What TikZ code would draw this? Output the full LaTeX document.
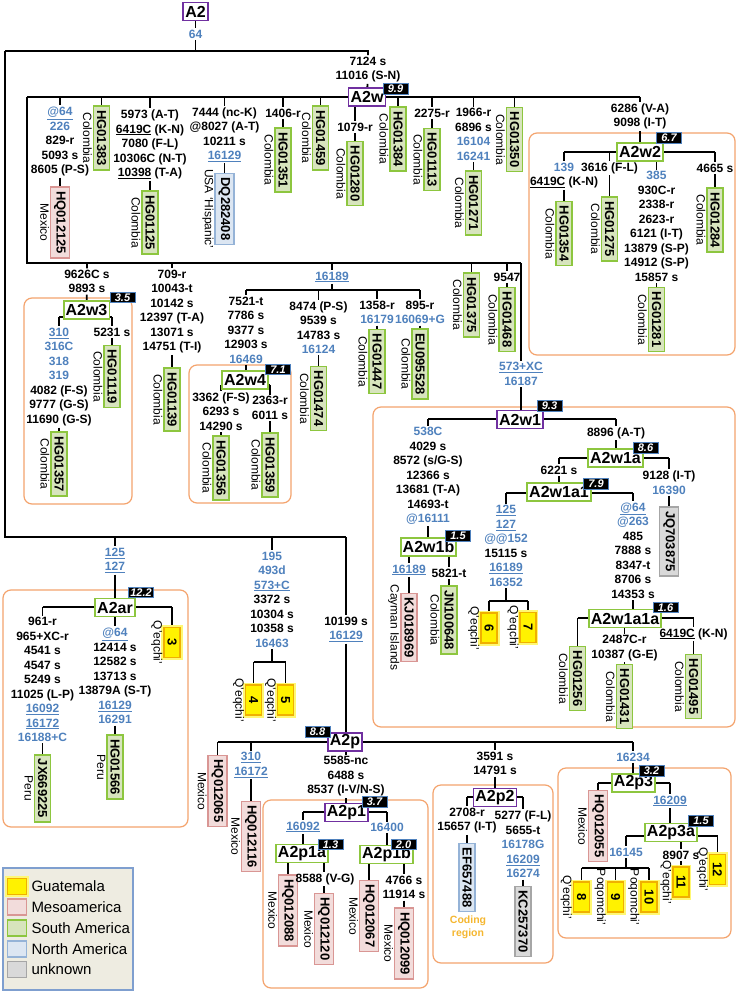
\documentclass[tikz,border=0pt]{standalone}
\usepackage{fontspec}
\setmainfont{Liberation Sans}
\usepackage{graphicx}
\usetikzlibrary{positioning,calc}
\pgfdeclarelayer{bg}
\pgfsetlayers{bg,main}
\definecolor{cpurple}{HTML}{7030A0}
\definecolor{cgreen}{HTML}{8DC63F}
\definecolor{fgreen}{HTML}{D7E4BD}
\definecolor{cpink}{HTML}{D99694}
\definecolor{fpink}{HTML}{F2DCDB}
\definecolor{cblue}{HTML}{95B3D7}
\definecolor{fblue}{HTML}{DCE6F2}
\definecolor{cgrey}{HTML}{A6A6A6}
\definecolor{fgrey}{HTML}{D9D9D9}
\definecolor{cgold}{HTML}{F0B000}
\definecolor{ccode}{HTML}{F5B731}
\definecolor{mblue}{HTML}{4F81BD}
\definecolor{corange}{HTML}{F4A46E}
\definecolor{fleg}{HTML}{EEECE1}
\definecolor{cleg}{HTML}{7F9FCF}
\newcommand{\vt}[1]{\rotatebox{-90}{#1}}
\newcommand{\blu}[1]{\textcolor{mblue}{#1}}
\newcommand{\blul}[1]{\textcolor{mblue}{\underline{#1}}}
\newcommand{\und}[1]{\underline{#1}}

\begin{document}
\begin{tikzpicture}[x=1pt,y=-1pt,
  tree/.style={line width=1.8pt},
  grp/.style={draw=corange,line width=1.2pt,rounded corners=8pt},
  mut/.style={align=center,inner sep=1.5pt,font=\bfseries\fontsize{12}{14.5}\selectfont},
  clade/.style={draw,fill=white,line width=1.8pt,inner xsep=2pt,inner ysep=0pt,minimum height=18pt,font=\bfseries\fontsize{16}{16}\selectfont},
  pclade/.style={clade,draw=cpurple},
  gclade/.style={clade,draw=cgreen},
  badge/.style={fill=black,draw=mblue,line width=0.8pt,text=white,inner sep=0pt,minimum width=25pt,minimum height=10.5pt,font=\bfseries\itshape\fontsize{11}{11}\selectfont},
  leaf/.style={draw,line width=1.6pt,inner xsep=3.5pt,inner ysep=4pt,font=\bfseries\fontsize{13}{13}\selectfont},
  sam/.style={leaf,draw=cgreen,fill=fgreen},
  meso/.style={leaf,draw=cpink,fill=fpink},
  nam/.style={leaf,draw=cblue,fill=fblue},
  unk/.style={leaf,draw=cgrey,fill=fgrey},
  gua/.style={leaf,draw=cgold,fill=yellow,minimum height=30pt,preaction={draw=yellow!55,line width=5pt}},
  ctrytext/.style={draw=none,fill=none,text=black,inner sep=0.5pt,minimum size=0pt,font=\fontsize{12}{12}\selectfont},
  cty/.style={label={[ctrytext]left:\vt{#1}}},
  coding/.style={align=center,text=ccode,inner sep=0pt,font=\bfseries\fontsize{10.5}{13}\selectfont},
  sw/.style={minimum width=19pt,minimum height=16pt,inner sep=0pt},
  legtext/.style={inner sep=0pt,anchor=west,font=\fontsize{15}{15}\selectfont}]
  \useasboundingbox (0,0) rectangle (738,992);

  % root and A2w
  \node[pclade] (a2) at (195.5,11.5) {A2};
  \node[mut] (ma2) at (195.5,34) {\blu{64}};
  \coordinate (topl) at (5,51);
  \coordinate (topr) at (368,51);
  \node[mut] (ma2w) at (368,69.5) {7124 s\\11016 (S-N)};
  \node[pclade] (a2w) at (367,97) {A2w};
  \node[badge] (ba2w) at (395.5,89) {9.9};
  \coordinate (row1l) at (27,97);
  \coordinate (row1r) at (640,97);

  % first row under A2w
  \node[mut] (mhq012125) at (60,141.5) {\blul{@64}\\\blu{226}\\829-r\\5093 s\\8605 (P-S)};
  \node[meso,cty=Mexico] (hq012125) at (60,222.5) {\vt{HQ012125}};
  \node[sam,cty=Colombia] (hg01383) at (101.5,138) {\vt{HG01383}};
  \node[mut] (mhg01125) at (150,144.5) {5973 (A-T)\\\und{6419C} (K-N)\\7080 (F-L)\\10306C (N-T)\\\und{10398} (T-A)};
  \node[sam,cty=Colombia] (hg01125) at (150,222.5) {\vt{HG01125}};
  \node[mut] (mdq282408) at (224.5,134.5) {7444 (nc-K)\\@8027 (A-T)\\10211 s\\\blul{16129}};
  \node[nam,cty={USA ‘Hispanic’}] (dq282408) at (224.5,209) {\vt{DQ282408}};
  \node[mut] (mhg01351) at (283,113) {1406-r};
  \node[sam,cty=Colombia] (hg01351) at (283,160) {\vt{HG01351}};
  \node[sam,cty=Colombia] (hg01459) at (320.5,138) {\vt{HG01459}};
  \node[mut] (mhg01280) at (355,127) {1079-r};
  \node[sam,cty=Colombia] (hg01280) at (355,173.5) {\vt{HG01280}};
  \node[sam,cty=Colombia] (hg01384) at (398,139) {\vt{HG01384}};
  \node[mut] (mhg01113) at (432,113) {2275-r};
  \node[sam,cty=Colombia] (hg01113) at (432,159.5) {\vt{HG01113}};
  \node[mut] (mhg01271) at (473.5,134.5) {1966-r\\6896 s\\\blu{16104}\\\blu{16241}};
  \node[sam,cty=Colombia] (hg01271) at (473.5,203) {\vt{HG01271}};
  \node[sam,cty=Colombia] (hg01350) at (514.5,139.5) {\vt{HG01350}};
  \node[mut] (ma2w2) at (640,116.5) {6286 (V-A)\\9098 (I-T)};

  % A2w2
  \node[gclade] (a2w2) at (640,152) {A2w2};
  \node[badge] (ba2w2) at (669,138) {6.7};
  \coordinate (w2l) at (564,152);
  \coordinate (w2r) at (715,152);
  \node[mut] (mhg01354) at (564,175.5) {\blu{139}\\\und{6419C} (K-N)};
  \node[sam,cty=Colombia] (hg01354) at (564,233.5) {\vt{HG01354}};
  \node[mut] (mhg01275) at (609.5,168) {3616 (F-L)};
  \node[sam,cty=Colombia] (hg01275) at (609.5,229) {\vt{HG01275}};
  \node[mut] (mhg01281) at (656.5,226.5) {\blu{385}\\930C-r\\2338-r\\2623-r\\6121 (I-T)\\13879 (S-P)\\14912 (S-P)\\15857 s};
  \node[sam,cty=Colombia] (hg01281) at (656.5,319.5) {\vt{HG01281}};
  \node[mut] (mhg01284) at (715,168) {4665 s};
  \node[sam,cty=Colombia] (hg01284) at (715,220) {\vt{HG01284}};

  % second row under A2w
  \coordinate (row2l) at (27,263);
  \coordinate (row2r) at (521,263);
  \node[mut] (ma2w3) at (87,281.5) {9626C s\\9893 s};
  \node[gclade] (a2w3) at (86.5,310) {A2w3};
  \node[badge] (ba2w3) at (122.5,297.5) {3.5};
  \coordinate (w3l) at (59,317);
  \coordinate (w3r) at (112,317);
  \node[mut] (mhg01357) at (59,377) {\blul{310}\\\blu{316C}\\\blu{318}\\\blu{319}\\4082 (F-S)\\9777 (G-S)\\11690 (G-S)};
  \node[sam,cty=Colombia] (hg01357) at (59,464) {\vt{HG01357}};
  \node[mut] (mhg01119) at (112,332) {5231 s};
  \node[sam,cty=Colombia] (hg01119) at (112,376.5) {\vt{HG01119}};
  \node[mut] (mhg01139) at (172,311.5) {709-r\\10043-t\\10142 s\\12397 (T-A)\\13071 s\\14751 (T-I)};
  \node[sam,cty=Colombia] (hg01139) at (172,399.5) {\vt{HG01139}};
  \node[mut] (m16189) at (332,277) {\blul{16189}};
  \coordinate (row3l) at (246,290);
  \coordinate (row3r) at (420,290);
  \node[mut] (ma2w4) at (246,330) {7521-t\\7786 s\\9377 s\\12903 s\\\blu{16469}};
  \node[gclade] (a2w4) at (245,380) {A2w4};
  \node[badge] (ba2w4) at (278,369.5) {7.1};
  \coordinate (w4l) at (221,385);
  \coordinate (w4r) at (270,385);
  \node[mut] (mhg01356) at (221,411.5) {3362 (F-S)\\6293 s\\14290 s};
  \node[sam,cty=Colombia] (hg01356) at (221,468) {\vt{HG01356}};
  \node[mut] (mhg01359) at (270,408) {2363-r\\6011 s};
  \node[sam,cty=Colombia] (hg01359) at (270,465) {\vt{HG01359}};
  \node[mut] (mhg01474) at (318.5,327.5) {8474 (P-S)\\9539 s\\14783 s\\\blu{16124}};
  \node[sam,cty=Colombia] (hg01474) at (318.5,398.5) {\vt{HG01474}};
  \node[mut] (mhg01447) at (377,312.5) {1358-r\\\blu{16179}};
  \node[sam,cty=Colombia] (hg01447) at (377,361.5) {\vt{HG01447}};
  \node[mut] (meu095528) at (420,312.5) {895-r\\\blu{16069+G}};
  \node[sam,cty=Colombia] (eu095528) at (420,364) {\vt{EU095528}};
  \node[sam,cty=Colombia] (hg01375) at (471.5,305) {\vt{HG01375}};
  \node[mut] (mhg01468) at (507,277) {9547};
  \node[sam,cty=Colombia] (hg01468) at (507,319.5) {\vt{HG01468}};
  \node[mut] (ma2w1) at (521,374) {\blul{573+XC}\\\blu{16187}};

  % A2w1
  \node[pclade] (a2w1) at (520,419.5) {A2w1};
  \node[badge] (ba2w1) at (549.5,406) {9.3};
  \coordinate (w1l) at (428,419);
  \coordinate (w1r) at (616,419);
  \node[mut] (ma2w1b) at (428,476) {\blu{538C}\\4029 s\\8572 (s/G-S)\\12366 s\\13681 (T-A)\\14693-t\\\blu{@16111}};
  \node[gclade] (a2w1b) at (428.5,547) {A2w1b};
  \node[badge] (ba2w1b) at (458,536) {1.5};
  \coordinate (w1bl) at (409,549);
  \coordinate (w1br) at (449,549);
  \node[mut] (mkj018969) at (409,570) {\blul{16189}};
  \node[meso,cty=Cayman Islands] (kj018969) at (409,627.5) {\vt{KJ018969}};
  \node[mut] (mjn100648) at (449,573) {5821-t};
  \node[sam,cty=Colombia] (jn100648) at (449,620) {\vt{JN100648}};
  \node[mut] (ma2w1a) at (616,433) {8896 (A-T)};
  \node[gclade] (a2w1a) at (615.5,458) {A2w1a};
  \node[badge] (ba2w1a) at (645.5,448) {8.6};
  \coordinate (w1al) at (559,458);
  \coordinate (w1ar) at (669,458);
  \node[mut] (ma2w1a1) at (559,470) {6221 s};
  \node[gclade] (a2w1a1) at (559,492) {A2w1a1};
  \node[badge] (ba2w1a1) at (596,484) {7.9};
  \coordinate (w1a1l) at (506,493);
  \coordinate (w1a1r) at (633,493);
  \node[mut] (mq67) at (506,546) {\blul{125}\\\blul{127}\\\blu{@@152}\\15115 s\\\blul{16189}\\\blu{16352}};
  \coordinate (q67l) at (489,601);
  \coordinate (q67r) at (528,601);
  \node[gua,cty=Q'eqchi'] (g6) at (489,628) {\vt{6}};
  \node[gua,cty=Q'eqchi'] (g7) at (528,627.5) {\vt{7}};
  \node[mut] (ma2w1a1a) at (633,550.5) {\blul{@64}\\\blu{@263}\\485\\7888 s\\8347-t\\8706 s\\14353 s};
  \node[gclade] (a2w1a1a) at (625,618.5) {A2w1a1a};
  \node[badge] (ba2w1a1a) at (665.5,607.5) {1.6};
  \coordinate (w1a1al) at (577.5,618);
  \coordinate (w1a1ar) at (693.5,618);
  \node[sam,cty=Colombia] (hg01256) at (577.5,678.5) {\vt{HG01256}};
  \node[mut] (mhg01431) at (624.5,648) {2487C-r\\10387 (G-E)};
  \node[sam,cty=Colombia] (hg01431) at (624.5,696.5) {\vt{HG01431}};
  \node[mut] (mhg01495) at (693.5,634) {\und{6419C} (K-N)};
  \node[sam,cty=Colombia] (hg01495) at (693.5,686.5) {\vt{HG01495}};
  \node[mut] (mjq703875) at (669,482.5) {9128 (I-T)\\\blu{16390}};
  \node[unk] (jq703875) at (669,541.5) {\vt{JQ703875}};

  % lower branch of A2
  \coordinate (botl) at (5,537);
  \coordinate (botr) at (346,537);
  \node[mut] (ma2ar) at (115,560.5) {\blul{125}\\\blul{127}};
  \node[gclade] (a2ar) at (115,607.5) {A2ar};
  \node[badge] (ba2ar) at (141,592.5) {12.2};
  \coordinate (arl) at (42.5,607);
  \coordinate (arr) at (172,607);
  \node[mut] (mjx669225) at (42.5,679.5) {961-r\\965+XC-r\\4541 s\\4547 s\\5249 s\\11025 (L-P)\\\blul{16092}\\\blul{16172}\\\blu{16188+C}};
  \node[sam,cty=Peru] (jx669225) at (42.5,788.5) {\vt{JX669225}};
  \node[mut] (mhg01566) at (115,676) {\blul{@64}\\12414 s\\12582 s\\13713 s\\13879A (S-T)\\\blul{16129}\\\blu{16291}};
  \node[sam,cty=Peru] (hg01566) at (115,767) {\vt{HG01566}};
  \node[gua,cty=Q'eqchi'] (g3) at (172,642.5) {\vt{3}};
  \node[mut] (mq45) at (272,599.5) {\blu{195}\\\blu{493d}\\\blul{573+C}\\3372 s\\10304 s\\10358 s\\\blu{16463}};
  \coordinate (q45l) at (253.5,662);
  \coordinate (q45r) at (285.5,662);
  \node[gua,cty=Q'eqchi'] (g4) at (253.5,700) {\vt{4}};
  \node[gua,cty=Q'eqchi'] (g5) at (285.5,700) {\vt{5}};

  % A2p
  \node[mut] (ma2p) at (346,629.5) {10199 s\\\blul{16129}};
  \node[pclade] (a2p) at (345,742) {A2p};
  \node[badge] (ba2p) at (317.5,732) {8.8};
  \coordinate (pl) at (217.5,742);
  \coordinate (pr) at (633,742);
  \node[meso,cty=Mexico] (hq012065) at (217.5,791) {\vt{HQ012065}};
  \node[mut] (mhq012116) at (251,765) {\blul{310}\\\blul{16172}};
  \node[meso,cty=Mexico] (hq012116) at (251,836.5) {\vt{HQ012116}};
  \node[mut] (ma2p1) at (346,776.5) {5585-nc\\6488 s\\8537 (I-V/N-S)};
  \node[pclade] (a2p1) at (346.5,812.5) {A2p1};
  \node[badge] (ba2p1) at (374.5,802) {3.7};
  \coordinate (p1l) at (303,812);
  \coordinate (p1r) at (387,812);
  \node[mut] (ma2p1a) at (303,827) {\blul{16092}};
  \node[gclade] (a2p1a) at (302,853.5) {A2p1a};
  \node[badge] (ba2p1a) at (330.5,844.5) {1.3};
  \coordinate (p1al) at (288,862);
  \coordinate (p1ar) at (324,862);
  \node[meso,cty=Mexico] (hq012088) at (288,910.5) {\vt{HQ012088}};
  \node[mut] (mhq012120) at (325,879) {8588 (V-G)};
  \node[meso,cty=Mexico] (hq012120) at (324,929) {\vt{HQ012120}};
  \node[mut] (ma2p1b) at (387,827.5) {\blu{16400}};
  \node[gclade] (a2p1b) at (386.5,854.5) {A2p1b};
  \node[badge] (ba2p1b) at (403.5,844.5) {2.0};
  \coordinate (p1bl) at (369,863);
  \coordinate (p1br) at (404,863);
  \node[meso,cty=Mexico] (hq012067) at (369,916) {\vt{HQ012067}};
  \node[mut] (mhq012099) at (404,887.5) {4766 s\\11914 s};
  \node[meso,cty=Mexico] (hq012099) at (404,943.5) {\vt{HQ012099}};

  % A2p2
  \node[mut] (ma2p2) at (495,763.5) {3591 s\\14791 s};
  \node[pclade] (a2p2) at (495,797.5) {A2p2};
  \coordinate (p2l) at (467,797);
  \coordinate (p2r) at (523,797);
  \node[mut] (mef657488) at (467,820.5) {2708-r\\15657 (I-T)};
  \node[nam] (ef657488) at (467,877.5) {\vt{EF657488}};
  \node[coding] (coding) at (468,927.5) {Coding\\region};
  \node[mut] (mkc257370) at (523,844.5) {5277 (F-L)\\5655-t\\\blu{16178G}\\\blul{16209}\\\blu{16274}};
  \node[unk] (kc257370) at (523,921.5) {\vt{KC257370}};

  % A2p3
  \node[mut] (ma2p3) at (633,757) {\blu{16234}};
  \node[gclade] (a2p3) at (633.5,783) {A2p3};
  \node[badge] (ba2p3) at (651.5,771) {3.2};
  \coordinate (p3l) at (598,783);
  \coordinate (p3r) at (670,783);
  \node[meso,cty=Mexico] (hq012055) at (598,826) {\vt{HQ012055}};
  \node[mut] (ma2p3a) at (670,801) {\blul{16209}};
  \node[gclade] (a2p3a) at (671,832.5) {A2p3a};
  \node[badge] (ba2p3a) at (701,821) {1.5};
  \coordinate (p3al) at (626,836);
  \coordinate (p3ar) at (717.5,836);
  \node[mut] (mq8910) at (626,852) {\blu{16145}};
  \coordinate (q8l) at (581.5,868);
  \coordinate (q8r) at (649,868);
  \node[gua,cty=Q'eqchi'] (g8) at (581.5,897) {\vt{8}};
  \node[gua,cty=Poqomchi'] (g9) at (615.5,897) {\vt{9}};
  \node[gua,cty=Poqomchi'] (g10) at (649,897) {\vt{10}};
  \node[mut] (mg11) at (681,855) {8907 s};
  \node[gua,cty=Q'eqchi'] (g11) at (681,882) {\vt{11}};
  \node[gua,cty=Q'eqchi'] (g12) at (717.5,869.5) {\vt{12}};

  % legend
  \node[draw=cleg,fill=fleg,line width=1.2pt,minimum width=130pt,minimum height=122pt,inner sep=0pt] (legend) at (68,929) {};
  \node[gua,sw] (kgua) at (17,886.5) {};
  \node[meso,sw] (kmeso) at (17,907) {};
  \node[sam,sw] (ksam) at (17,928) {};
  \node[nam,sw] (knam) at (17,949) {};
  \node[unk,sw] (kunk) at (17,969.5) {};
  \node[legtext,right=4pt of kgua] (tgua) {Guatemala};
  \node[legtext,right=4pt of kmeso] (tmeso) {Mesoamerica};
  \node[legtext,right=4pt of ksam] (tsam) {South America};
  \node[legtext,right=4pt of knam] (tnam) {North America};
  \node[legtext,right=4pt of kunk] (tunk) {unknown};

  \begin{pgfonlayer}{bg}
  \fill[white] (0,0) rectangle (738,992);
  % clade groups
  \draw[grp] (529,133) rectangle (735,355);
  \draw[grp] (24,298) rectangle (132,504);
  \draw[grp] (189,365) rectangle (291,503);
  \draw[grp] (373,407) rectangle (735,727);
  \draw[grp] (3,590) rectangle (188,827);
  \draw[grp] (263,800) rectangle (428,988);
  \draw[grp] (433,785) rectangle (553,963);
  \draw[grp] (558,768) rectangle (731,938);
  % root
  \draw[tree] (a2) -- (ma2) -- (ma2 |- topl);
  \draw[tree] (topl) -- (topr) -- (ma2w) -- (a2w);
  % A2w, first row
  \draw[tree] (row1l) -- (row1r);
  \draw[tree] (mhq012125 |- row1l) -- (mhq012125) -- (mhq012125 |- hq012125.north);
  \draw[tree] (hg01383 |- row1l) -- (hg01383);
  \draw[tree] (mhg01125 |- row1l) -- (mhg01125) -- (mhg01125 |- hg01125.north);
  \draw[tree] (mdq282408 |- row1l) -- (mdq282408) -- (mdq282408 |- dq282408.north);
  \draw[tree] (mhg01351 |- row1l) -- (mhg01351) -- (mhg01351 |- hg01351.north);
  \draw[tree] (hg01459 |- row1l) -- (hg01459);
  \draw[tree] (mhg01280 |- row1l) -- (mhg01280) -- (mhg01280 |- hg01280.north);
  \draw[tree] (hg01384 |- row1l) -- (hg01384);
  \draw[tree] (mhg01113 |- row1l) -- (mhg01113) -- (mhg01113 |- hg01113.north);
  \draw[tree] (mhg01271 |- row1l) -- (mhg01271) -- (mhg01271 |- hg01271.north);
  \draw[tree] (hg01350 |- row1l) -- (hg01350);
  \draw[tree] (ma2w2 |- row1l) -- (ma2w2) -- (a2w2);
  % A2w2
  \draw[tree] (w2l) -- (w2r);
  \draw[tree] (mhg01354 |- w2l) -- (mhg01354) -- (mhg01354 |- hg01354.north);
  \draw[tree] (mhg01275 |- w2l) -- (mhg01275) -- (mhg01275 |- hg01275.north);
  \draw[tree] (mhg01281 |- w2l) -- (mhg01281) -- (mhg01281 |- hg01281.north);
  \draw[tree] (mhg01284 |- w2l) -- (mhg01284) -- (mhg01284 |- hg01284.north);
  % A2w, second row
  \draw[tree] (row1l) -- (row2l) -- (row2r);
  \draw[tree] (ma2w3 |- row2l) -- (ma2w3) -- (a2w3);
  \draw[tree] (w3l) -- (w3r);
  \draw[tree] (mhg01357 |- w3l) -- (mhg01357) -- (mhg01357 |- hg01357.north);
  \draw[tree] (mhg01119 |- w3l) -- (mhg01119) -- (mhg01119 |- hg01119.north);
  \draw[tree] (mhg01139 |- row2l) -- (mhg01139) -- (mhg01139 |- hg01139.north);
  \draw[tree] (m16189 |- row2l) -- (m16189) -- (m16189 |- row3l);
  \draw[tree] (row3l) -- (row3r);
  \draw[tree] (ma2w4 |- row3l) -- (ma2w4) -- (ma2w4 |- a2w4.north);
  \draw[tree] (w4l) -- (w4r);
  \draw[tree] (mhg01356 |- w4l) -- (mhg01356) -- (mhg01356 |- hg01356.north);
  \draw[tree] (mhg01359 |- w4l) -- (mhg01359) -- (mhg01359 |- hg01359.north);
  \draw[tree] (mhg01474 |- row3l) -- (mhg01474) -- (mhg01474 |- hg01474.north);
  \draw[tree] (mhg01447 |- row3l) -- (mhg01447) -- (mhg01447 |- hg01447.north);
  \draw[tree] (meu095528 |- row3l) -- (meu095528) -- (meu095528 |- eu095528.north);
  \draw[tree] (hg01375 |- row2l) -- (hg01375);
  \draw[tree] (mhg01468 |- row2l) -- (mhg01468) -- (mhg01468 |- hg01468.north);
  \draw[tree] (ma2w1 |- row2l) -- (ma2w1) -- (ma2w1 |- a2w1.north);
  % A2w1
  \draw[tree] (w1l) -- (w1r);
  \draw[tree] (ma2w1b |- w1l) -- (ma2w1b) -- (ma2w1b |- a2w1b.north);
  \draw[tree] (w1bl) -- (w1br);
  \draw[tree] (w1bl) -- (mkj018969) -- (mkj018969 |- kj018969.north);
  \draw[tree] (w1br) -- (mjn100648) -- (mjn100648 |- jn100648.north);
  \draw[tree] (ma2w1a |- w1l) -- (ma2w1a) -- (ma2w1a |- a2w1a.north);
  \draw[tree] (w1al) -- (w1ar);
  \draw[tree] (w1al) -- (ma2w1a1) -- (ma2w1a1 |- a2w1a1.north);
  \draw[tree] (w1a1l) -- (w1a1r);
  \draw[tree] (w1a1l) -- (mq67) -- (mq67 |- q67l);
  \draw[tree] (q67l) -- (q67r);
  \draw[tree] (q67l) -- (g6);
  \draw[tree] (q67r) -- (g7);
  \draw[tree] (w1a1r) -- (ma2w1a1a) -- (ma2w1a1a |- a2w1a1a.north);
  \draw[tree] (w1a1al) -- (w1a1ar);
  \draw[tree] (w1a1al) -- (hg01256);
  \draw[tree] (mhg01431 |- w1a1al) -- (mhg01431) -- (mhg01431 |- hg01431.north);
  \draw[tree] (w1a1ar) -- (mhg01495) -- (mhg01495 |- hg01495.north);
  \draw[tree] (w1ar) -- (mjq703875) -- (mjq703875 |- jq703875.north);
  % lower branch of A2
  \draw[tree] (topl) -- (botl) -- (botr);
  \draw[tree] (ma2ar |- botl) -- (ma2ar) -- (a2ar);
  \draw[tree] (arl) -- (arr);
  \draw[tree] (arl) -- (mjx669225) -- (mjx669225 |- jx669225.north);
  \draw[tree] (mhg01566 |- arl) -- (mhg01566) -- (mhg01566 |- hg01566.north);
  \draw[tree] (arr) -- (g3);
  \draw[tree] (mq45 |- botl) -- (mq45) -- (mq45 |- q45l);
  \draw[tree] (q45l) -- (q45r);
  \draw[tree] (q45l) -- (g4);
  \draw[tree] (q45r) -- (g5);
  \draw[tree] (botr) -- (ma2p) -- (ma2p |- a2p.north);
  % A2p
  \draw[tree] (pl) -- (pr);
  \draw[tree] (pl) -- (hq012065);
  \draw[tree] (mhq012116 |- pl) -- (mhq012116) -- (mhq012116 |- hq012116.north);
  \draw[tree] (ma2p1 |- pl) -- (ma2p1) -- (ma2p1 |- a2p1.north);
  \draw[tree] (p1l) -- (p1r);
  \draw[tree] (p1l) -- (ma2p1a) -- (ma2p1a |- a2p1a.north);
  \draw[tree] (p1al) -- (p1ar);
  \draw[tree] (p1al) -- (hq012088);
  \draw[tree] (p1ar) -- (p1ar |- mhq012120.north);
  \draw[tree] (mhq012120.south -| hq012120) -- (hq012120);
  \draw[tree] (p1r) -- (ma2p1b) -- (ma2p1b |- a2p1b.north);
  \draw[tree] (p1bl) -- (p1br);
  \draw[tree] (p1bl) -- (hq012067);
  \draw[tree] (p1br) -- (mhq012099) -- (mhq012099 |- hq012099.north);
  \draw[tree] (ma2p2 |- pl) -- (ma2p2) -- (a2p2);
  \draw[tree] (p2l) -- (p2r);
  \draw[tree] (p2l) -- (mef657488) -- (mef657488 |- ef657488.north);
  \draw[tree] (p2r) -- (mkc257370) -- (mkc257370 |- kc257370.north);
  \draw[tree] (pr) -- (ma2p3) -- (ma2p3 |- a2p3.north);
  \draw[tree] (p3l) -- (p3r);
  \draw[tree] (p3l) -- (hq012055);
  \draw[tree] (p3r) -- (ma2p3a) -- (ma2p3a |- a2p3a.north);
  \draw[tree] (p3al) -- (p3ar);
  \draw[tree] (p3al) -- (mq8910) -- (mq8910 |- q8l);
  \draw[tree] (q8l) -- (q8r);
  \draw[tree] (q8l) -- (g8);
  \draw[tree] (g9 |- q8l) -- (g9);
  \draw[tree] (q8r) -- (g10);
  \draw[tree] (mg11 |- p3al) -- (mg11) -- (g11);
  \draw[tree] (p3ar) -- (g12);
  \end{pgfonlayer}
\end{tikzpicture}
\end{document}
